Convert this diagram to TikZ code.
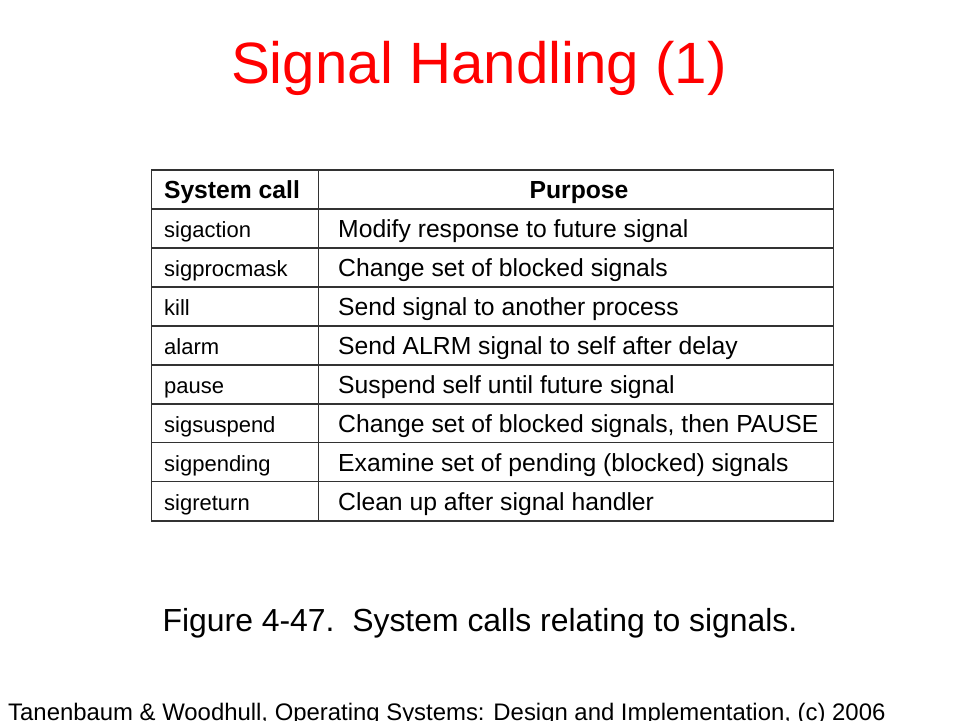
\documentclass[tikz,border=0pt]{standalone}
\usepackage{fontspec}
\setmainfont{Liberation Sans}
\usetikzlibrary{positioning}
\definecolor{titlered}{RGB}{255,0,0}
\definecolor{rule}{RGB}{50,50,50}
\tikzset{
  cell/.style={anchor=base west, inner sep=0pt},
  callcell/.style={cell, font=\fontsize{22}{22}\selectfont},
  purpcell/.style={cell, font=\fontsize{24.7}{25}\selectfont},
  headcell/.style={anchor=base, inner sep=0pt, font=\fontsize{24.7}{25}\selectfont\bfseries},
  gridline/.style={draw=rule, line width=1.4pt}
}
\begin{document}
\begin{tikzpicture}[x=1pt,y=-1pt]
\useasboundingbox [fill=white] (0,0) rectangle (960,720);

\node [anchor=base, inner sep=0pt, text=titlered, font=\fontsize{58.3}{60}\selectfont] (title) at (479,83) {Signal Handling (1)};

% table frame
\coordinate (tl) at (151.5,170);
\coordinate (br) at (833.5,521);
\draw [gridline] (tl) rectangle (br);
\draw [gridline] (318.5,170) -- (318.5,521);
\foreach \i in {1,...,8}
  \draw [gridline] (151.5,170+\i*38.97) -- (833.5,170+\i*38.97);

% header
\node [headcell] (hcall) at (232,198.5) {System call};
\node [headcell] (hpurp) at (579,198.5) {Purpose};

% rows
\foreach \c/\p [count=\i] in {
  sigaction/Modify response to future signal,
  sigprocmask/Change set of blocked signals,
  kill/Send signal to another process,
  alarm/Send ALRM signal to self after delay,
  pause/Suspend self until future signal,
  sigsuspend/{Change set of blocked signals, then PAUSE},
  sigpending/Examine set of pending (blocked) signals,
  sigreturn/Clean up after signal handler}
{
  \node [callcell] (call\i) at (164,198.5+\i*38.97) {\c};
  \node [purpcell] (purp\i) at (338,198.5+\i*38.97) {\p};
}

\node [anchor=base, inner sep=0pt, font=\fontsize{31.9}{32}\selectfont] (caption) at (480,631) {Figure 4-47.\ \ System calls relating to signals.};

\node [anchor=base west, inner sep=0pt, font=\fontsize{23.9}{24}\selectfont] (footer) at (8,720) {Tanenbaum \& Woodhull, Operating Systems: Design and Implementation, (c) 2006};
\end{tikzpicture}
\end{document}
